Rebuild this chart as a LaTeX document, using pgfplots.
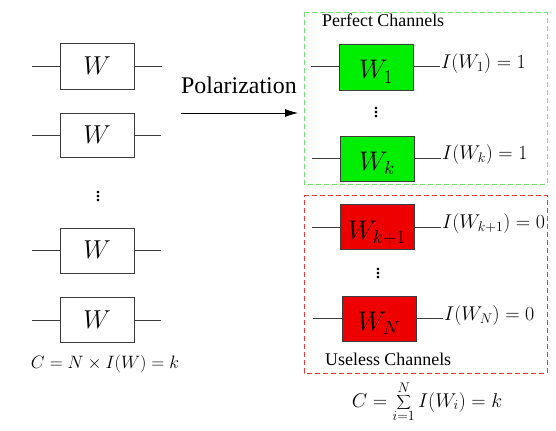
\RequirePackage{fix-cm}
\documentclass[border=0pt]{standalone}
\usepackage{fontspec}
\setmainfont{Liberation Serif}
\usepackage{pgfplots}
\pgfplotsset{compat=1.18}
\usetikzlibrary{arrows.meta}
\definecolor{gfill}{RGB}{0,238,0}
\definecolor{rfill}{RGB}{238,0,0}
\definecolor{gdash}{RGB}{110,230,110}
\definecolor{rdash}{RGB}{235,60,60}
\definecolor{edge}{RGB}{60,60,60}
\begin{document}
\begin{tikzpicture}
\begin{axis}[scale only axis, width=556bp, height=431bp,
  xmin=0, xmax=556, ymin=0, ymax=431, y dir=reverse,
  hide axis, clip=false]
\path (axis cs:0,0) rectangle (axis cs:556,431);
% ---------- left column ----------
\addplot[draw=edge, line width=0.8bp, mark=none] coordinates {(60,43) (134,43) (134,89) (60,89) (60,43)};
\addplot[draw=edge, line width=0.8bp, mark=none] coordinates {(60,113) (134,113) (134,157) (60,157) (60,113)};
\addplot[draw=edge, line width=0.8bp, mark=none] coordinates {(60,228) (134,228) (134,273) (60,273) (60,228)};
\addplot[draw=edge, line width=0.8bp, mark=none] coordinates {(60,297) (134,297) (134,342) (60,342) (60,297)};
\addplot[draw=edge, line width=0.8bp, mark=none] coordinates {(32,66) (60,66)};
\addplot[draw=edge, line width=0.8bp, mark=none] coordinates {(134,66) (162,66)};
\addplot[draw=edge, line width=0.8bp, mark=none] coordinates {(32,135) (60,135)};
\addplot[draw=edge, line width=0.8bp, mark=none] coordinates {(134,135) (161,135)};
\addplot[draw=edge, line width=0.8bp, mark=none] coordinates {(32,250) (60,250)};
\addplot[draw=edge, line width=0.8bp, mark=none] coordinates {(134,250) (161,250)};
\addplot[draw=edge, line width=0.8bp, mark=none] coordinates {(32,320) (60,320)};
\addplot[draw=edge, line width=0.8bp, mark=none] coordinates {(134,320) (161,320)};
\node[font=\fontsize{26}{30}\selectfont] at (axis cs:97,66) {$W$};
\node[font=\fontsize{26}{30}\selectfont] at (axis cs:97,135) {$W$};
\node[font=\fontsize{26}{30}\selectfont] at (axis cs:97,250) {$W$};
\node[font=\fontsize{26}{30}\selectfont] at (axis cs:97,320) {$W$};
\node[font=\fontsize{22}{26}\selectfont] at (axis cs:98,194) {$\vdots$};
\node[font=\fontsize{18}{22}\selectfont, anchor=base] at (axis cs:105,368) {$C = N \times I(W) = k$};
% ---------- arrow ----------
\node[font=\fontsize{24}{28}\selectfont, anchor=base west, inner sep=0pt] at (axis cs:181,93) {Polarization};
\addplot[draw=black, line width=0.8bp, mark=none, -{Latex[length=13bp,width=8bp]}] coordinates {(181,113) (298,113)};
% ---------- dashed groups ----------
\addplot[draw=gdash, line width=1bp, dash pattern=on 5bp off 3bp, mark=none] coordinates {(304,13) (547,13) (547,184) (304,184) (304,13)};
\addplot[draw=rdash, line width=1bp, dash pattern=on 5bp off 3bp, mark=none] coordinates {(304,195) (547,195) (547,373) (304,373) (304,195)};
\node[font=\fontsize{18}{22}\selectfont, anchor=base west, inner sep=0pt] at (axis cs:322,27) {Perfect Channels};
\node[font=\fontsize{18}{22}\selectfont, anchor=base west, inner sep=0pt] at (axis cs:325,365) {Useless Channels};
% ---------- right boxes ----------
\addplot[draw=edge, fill=gfill, line width=0.8bp, mark=none] coordinates {(339,44) (413,44) (413,90) (339,90) (339,44)};
\addplot[draw=edge, fill=gfill, line width=0.8bp, mark=none] coordinates {(340,136) (414,136) (414,181) (340,181) (340,136)};
\addplot[draw=edge, fill=rfill, line width=0.8bp, mark=none] coordinates {(340,204) (414,204) (414,249) (340,249) (340,204)};
\addplot[draw=edge, fill=rfill, line width=0.8bp, mark=none] coordinates {(342,296) (416,296) (416,341) (342,341) (342,296)};
\addplot[draw=edge, line width=0.8bp, mark=none] coordinates {(311,66) (339,66)};
\addplot[draw=edge, line width=0.8bp, mark=none] coordinates {(413,66) (440,66)};
\addplot[draw=edge, line width=0.8bp, mark=none] coordinates {(312,158) (340,158)};
\addplot[draw=edge, line width=0.8bp, mark=none] coordinates {(414,158) (441,158)};
\addplot[draw=edge, line width=0.8bp, mark=none] coordinates {(312,227) (340,227)};
\addplot[draw=edge, line width=0.8bp, mark=none] coordinates {(414,227) (441,227)};
\addplot[draw=edge, line width=0.8bp, mark=none] coordinates {(313,318) (342,318)};
\addplot[draw=edge, line width=0.8bp, mark=none] coordinates {(416,318) (443,318)};
\node[font=\fontsize{27}{30}\selectfont, anchor=base] at (axis cs:376,79) {$W_1$};
\node[font=\fontsize{27}{30}\selectfont, anchor=base] at (axis cs:377,170) {$W_k$};
\node[font=\fontsize{27}{30}\selectfont, anchor=base] at (axis cs:377,239) {$W_{k+1}$};
\node[font=\fontsize{27}{30}\selectfont, anchor=base] at (axis cs:379,330) {$W_N$};
\node[font=\fontsize{22}{26}\selectfont] at (axis cs:376,110) {$\vdots$};
\node[font=\fontsize{22}{26}\selectfont] at (axis cs:378,271) {$\vdots$};
\node[font=\fontsize{20}{24}\selectfont, anchor=west, inner sep=1bp] at (axis cs:440,64) {$I(W_1) = 1$};
\node[font=\fontsize{20}{24}\selectfont, anchor=west, inner sep=1bp] at (axis cs:441,155) {$I(W_k) = 1$};
\node[font=\fontsize{20}{24}\selectfont, anchor=west, inner sep=1bp] at (axis cs:441,224) {$I(W_{k+1}) = 0$};
\node[font=\fontsize{20}{24}\selectfont, anchor=west, inner sep=1bp] at (axis cs:443,316) {$I(W_N) = 0$};
\node[font=\fontsize{20}{24}\selectfont, anchor=base] at (axis cs:427,407) {$\displaystyle C = \sum_{i=1}^{N} I(W_i) = k$};
\end{axis}
\end{tikzpicture}
\end{document}
